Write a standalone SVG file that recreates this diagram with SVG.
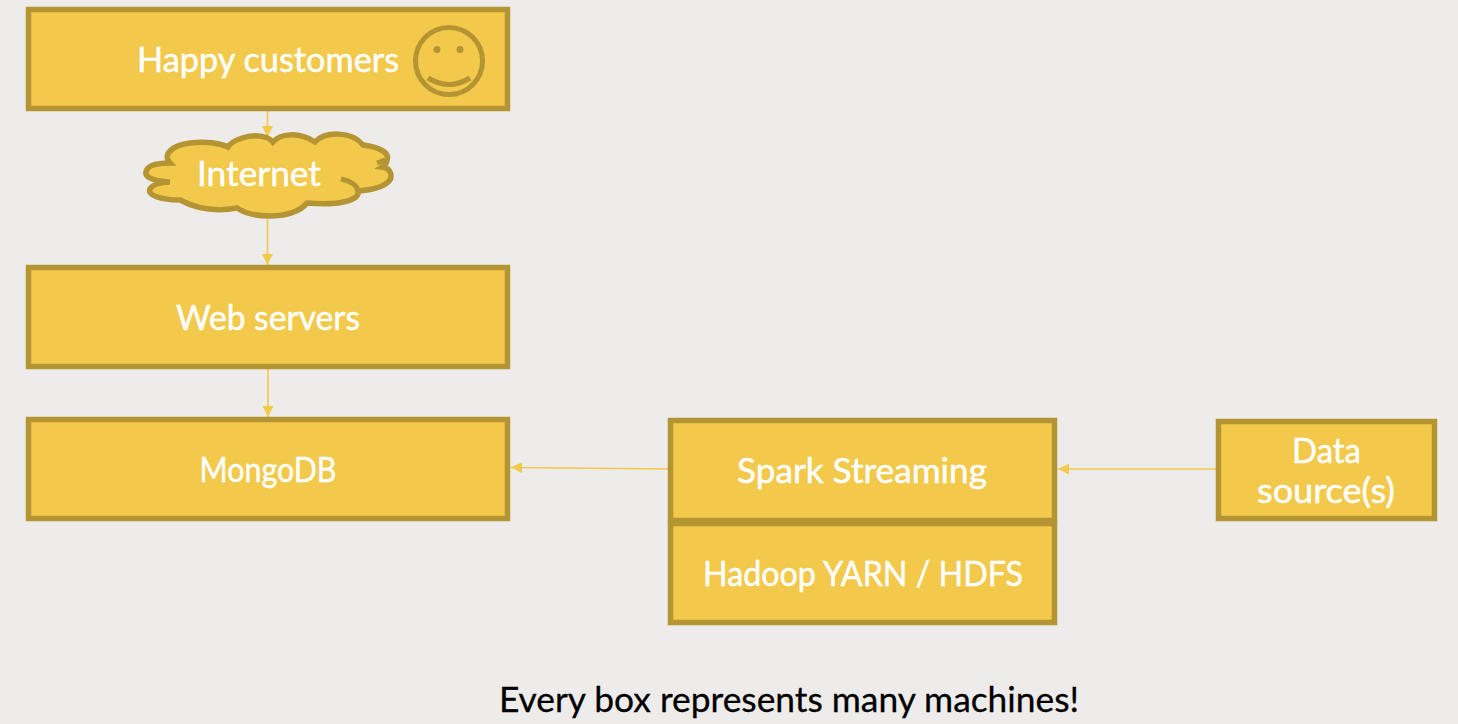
<svg xmlns="http://www.w3.org/2000/svg" width="1458" height="724" viewBox="0 0 1458 724">
<style>
.box{fill:#f2c94a;stroke:#b59533;stroke-width:5.500}
.ln{fill:none;stroke:#f2c94a;stroke-width:1.600}
.l{font-family:"Lato","Open Sans",sans-serif;font-size:35px;fill:#fff;stroke:#fff;stroke-width:.5;text-anchor:middle}
.det{fill:none;stroke:#b59533;stroke-width:5}
</style>
<defs>
<marker id="a" markerUnits="userSpaceOnUse" markerWidth="12" markerHeight="12" refX="11" refY="6" orient="auto"><path d="M0 .5L11 6L0 11.500Z" fill="#f2c94a"/></marker>
</defs>
<rect width="1458" height="724" fill="#edecea"/>
<g id="connectors">
<path class="ln" d="M267.500 111V137" marker-end="url(#a)"/>
<path class="ln" d="M267.500 216V265" marker-end="url(#a)"/>
<path class="ln" d="M268 369V417" marker-end="url(#a)"/>
<path class="ln" d="M668 469L511 467.500" marker-end="url(#a)"/>
<path class="ln" d="M1216 469H1058" marker-end="url(#a)"/>
</g>
<g id="happy">
<rect class="box" x="28.500" y="9.500" width="479" height="99"/>
<text class="l" x="268" y="72" textLength="262" lengthAdjust="spacingAndGlyphs">Happy customers</text>
<circle class="det" cx="449" cy="61" r="33.500"/>
<circle cx="437" cy="49.500" r="3.500" fill="#b59533"/><circle cx="460" cy="49.500" r="3.500" fill="#b59533"/>
<path class="det" d="M428 78Q449 91 470 78"/>
</g>
<g id="internet">
<path class="box" d="M170 182C150 181 145 176 146 172C147 166 155 163 170 163C162 155 172 145 190 143C205 141 220 143 228 147C232 140 248 135 258 136C263 136 270 138 273 142C280 134 298 131 315 142C325 131 352 131 363 145C378 147 390 152 387 160C387 163 385 165 382 167C392 168 393 178 388 182C382 188 370 190 358 191C360 200 340 206 307 203C300 212 285 216 270 216C255 216 243 212 237 208C215 212 195 208 180 200C160 200 147 195 150 189C152 185 160 182 170 182Z"/>
<path class="det" d="M341 179C350 181 357 185 358 191M377 163L385 160"/>
<text class="l" x="259" y="186" textLength="124" lengthAdjust="spacingAndGlyphs">Internet</text>
</g>
<g id="web"><rect class="box" x="28.500" y="267.500" width="479" height="99"/><text class="l" x="268" y="330" textLength="184" lengthAdjust="spacingAndGlyphs">Web servers</text></g>
<g id="mongo"><rect class="box" x="28.500" y="419.500" width="479" height="99"/><text class="l" x="268" y="482" textLength="137" lengthAdjust="spacingAndGlyphs">MongoDB</text></g>
<g id="spark"><rect class="box" x="670.500" y="420.500" width="384" height="100"/><text class="l" x="862" y="483" textLength="250" lengthAdjust="spacingAndGlyphs">Spark Streaming</text></g>
<g id="hadoop"><rect class="box" x="670.500" y="523.500" width="384" height="99"/><text class="l" x="863" y="586" textLength="320" lengthAdjust="spacingAndGlyphs">Hadoop YARN / HDFS</text></g>
<g id="data"><rect class="box" x="1218.500" y="421.500" width="216" height="97"/><text class="l" x="1326.500" y="463" textLength="69" lengthAdjust="spacingAndGlyphs">Data</text><text class="l" x="1326" y="503" textLength="138" lengthAdjust="spacingAndGlyphs">source(s)</text></g>
<text id="note" x="789" y="712" text-anchor="middle" font-family="Lato,'Open Sans',sans-serif" font-size="35" fill="#000" stroke="#000" stroke-width=".3" textLength="580" lengthAdjust="spacingAndGlyphs">Every box represents many machines!</text>
</svg>
